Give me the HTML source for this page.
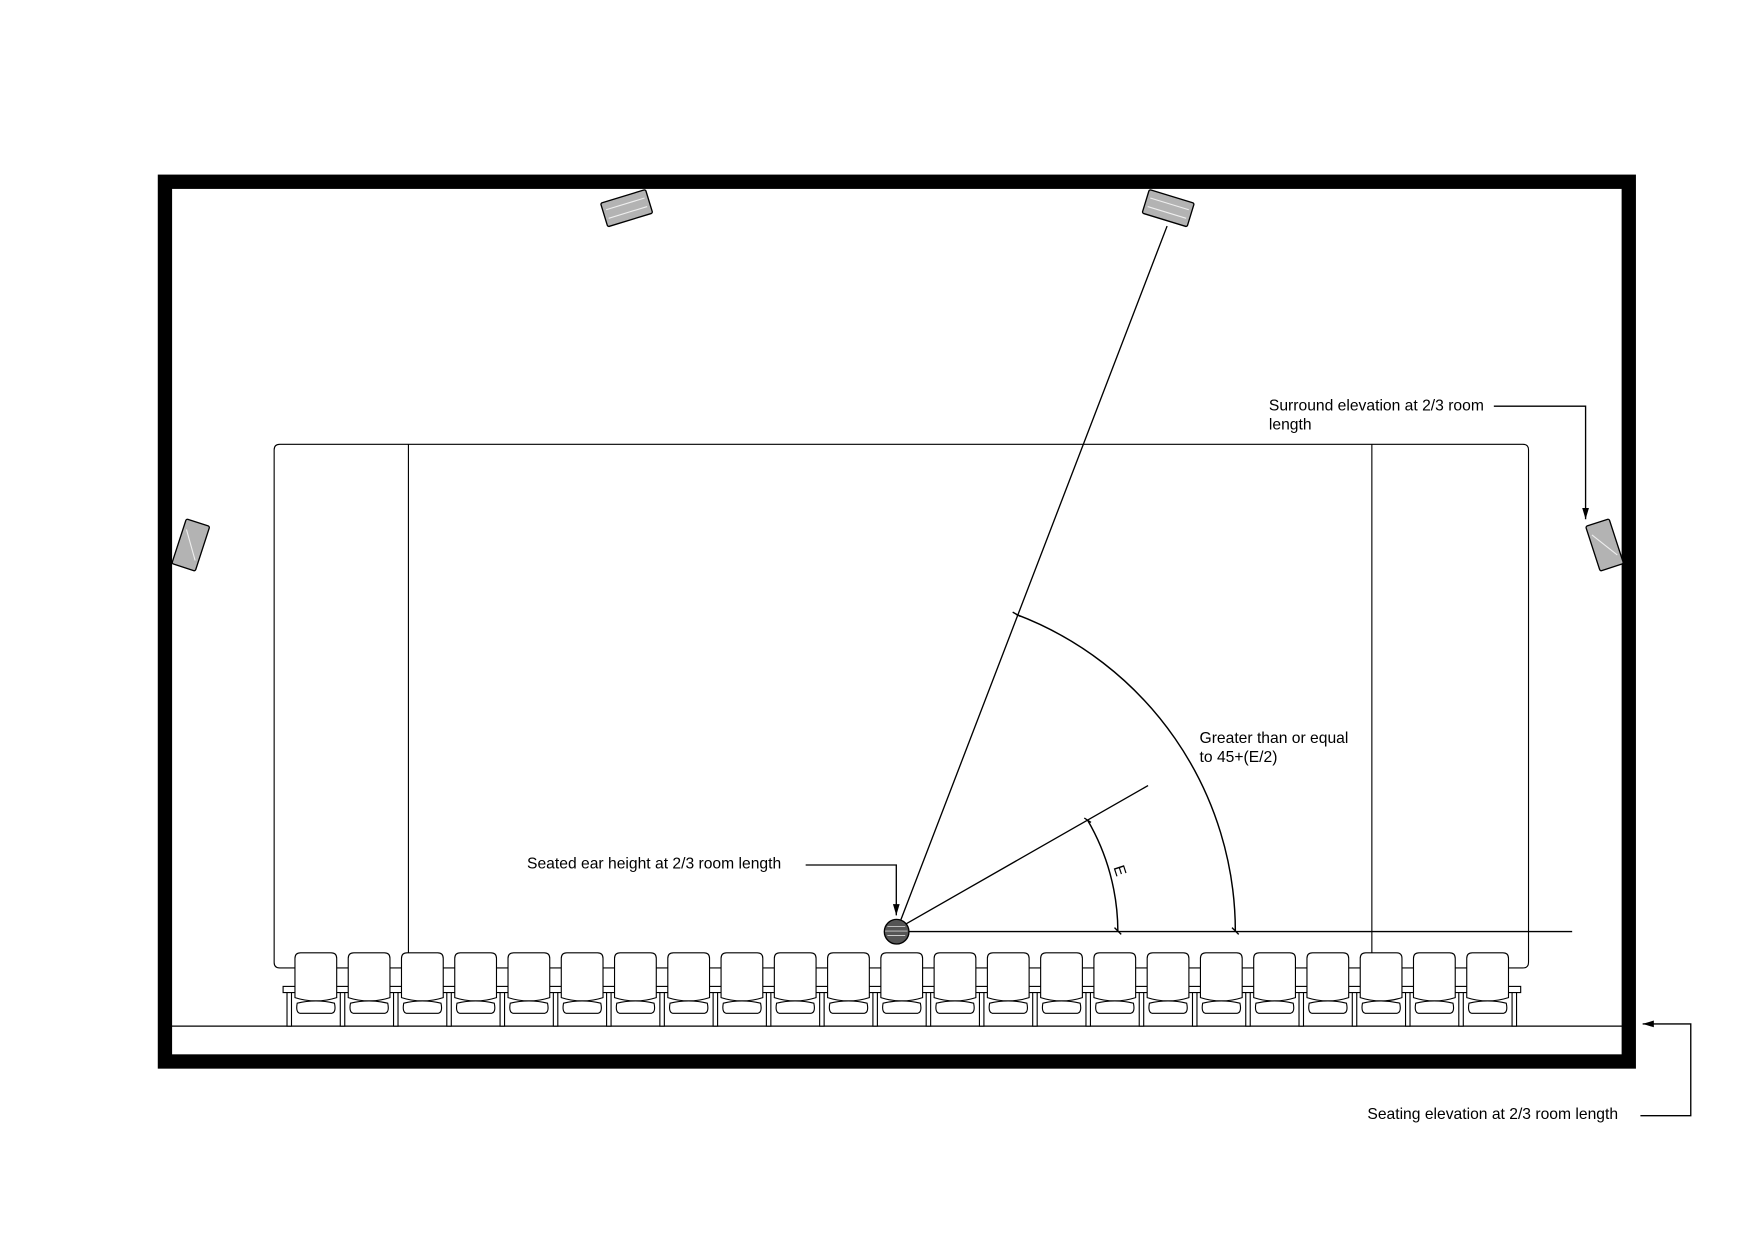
<!DOCTYPE html>
<html><head><meta charset="utf-8"><style>
html,body{margin:0;padding:0;background:#fff;}
svg{display:block;}
text{font-family:"Liberation Sans",Arial,sans-serif;font-size:14px;fill:#000;}
</style></head><body>
<svg width="1755" height="1240" viewBox="0 0 1568.4 1108.1" xmlns="http://www.w3.org/2000/svg">
<defs>
<marker id="ah" viewBox="0 0 10 10" refX="10" refY="5" markerWidth="10" markerHeight="10" markerUnits="userSpaceOnUse" orient="auto">
<path d="M0,2 L10,5 L0,8 Z" fill="#000"/>
</marker>
<g id="seat">
<path d="M0,5 Q0,0 5,0 L32.3,0 Q37.3,0 37.3,5 L37.3,40 Q18.6,46 0,40 Z" fill="#fff" stroke="#000" stroke-width="1"/>
<path d="M2,45 Q18.6,41 35.3,45 Q37,53 33,54 L4.3,54 Q0.5,53 2,45 Z" fill="#fff" stroke="#000" stroke-width="1"/>
</g>
</defs>
<rect x="0" y="0" width="1568.4" height="1108.1" fill="#fff"/>
<rect x="147.4" y="162.4" width="1308.2" height="786.2" fill="none" stroke="#000" stroke-width="12.8"/>
<path d="M250,397 L1361,397 Q1366,397 1366,402 L1366,860 Q1366,865 1361,865 L250,865 Q245,865 245,860 L245,402 Q245,397 250,397 Z" fill="none" stroke="#000" stroke-width="1"/>
<line x1="365" y1="397" x2="365" y2="865" stroke="#000" stroke-width="1"/>
<line x1="1226" y1="397" x2="1226" y2="865" stroke="#000" stroke-width="1"/>
<line x1="153.5" y1="917" x2="1449.5" y2="917" stroke="#000" stroke-width="1.2"/>
<rect x="253" y="881.5" width="1106" height="5.5" fill="#fff" stroke="#000" stroke-width="1"/>
<g fill="#fff" stroke="#000" stroke-width="1">
<rect x="256.5" y="887" width="4" height="30"/><rect x="304.1" y="887" width="4" height="30"/><rect x="351.7" y="887" width="4" height="30"/><rect x="399.3" y="887" width="4" height="30"/><rect x="446.9" y="887" width="4" height="30"/><rect x="494.5" y="887" width="4" height="30"/><rect x="542.1" y="887" width="4" height="30"/><rect x="589.7" y="887" width="4" height="30"/><rect x="637.3" y="887" width="4" height="30"/><rect x="684.9" y="887" width="4" height="30"/><rect x="732.5" y="887" width="4" height="30"/><rect x="780.1" y="887" width="4" height="30"/><rect x="827.7" y="887" width="4" height="30"/><rect x="875.3" y="887" width="4" height="30"/><rect x="922.9" y="887" width="4" height="30"/><rect x="970.5" y="887" width="4" height="30"/><rect x="1018.1" y="887" width="4" height="30"/><rect x="1065.7" y="887" width="4" height="30"/><rect x="1113.3" y="887" width="4" height="30"/><rect x="1160.9" y="887" width="4" height="30"/><rect x="1208.5" y="887" width="4" height="30"/><rect x="1256.1" y="887" width="4" height="30"/><rect x="1303.7" y="887" width="4" height="30"/><rect x="1351.3" y="887" width="4" height="30"/>
</g>
<use href="#seat" x="263.6" y="851.5"/><use href="#seat" x="311.2" y="851.5"/><use href="#seat" x="358.8" y="851.5"/><use href="#seat" x="406.4" y="851.5"/><use href="#seat" x="454" y="851.5"/><use href="#seat" x="501.6" y="851.5"/><use href="#seat" x="549.2" y="851.5"/><use href="#seat" x="596.8" y="851.5"/><use href="#seat" x="644.4" y="851.5"/><use href="#seat" x="692" y="851.5"/><use href="#seat" x="739.6" y="851.5"/><use href="#seat" x="787.2" y="851.5"/><use href="#seat" x="834.8" y="851.5"/><use href="#seat" x="882.4" y="851.5"/><use href="#seat" x="930" y="851.5"/><use href="#seat" x="977.6" y="851.5"/><use href="#seat" x="1025.2" y="851.5"/><use href="#seat" x="1072.8" y="851.5"/><use href="#seat" x="1120.4" y="851.5"/><use href="#seat" x="1168" y="851.5"/><use href="#seat" x="1215.6" y="851.5"/><use href="#seat" x="1263.2" y="851.5"/><use href="#seat" x="1310.8" y="851.5"/>
<g fill="#b3b3b3" stroke="#000" stroke-width="1.2">
<g transform="translate(560,186) rotate(-17)"><rect x="-21" y="-11" width="42" height="22" rx="1.5"/><line x1="-18" y1="-4" x2="18" y2="-4" stroke="#eee" stroke-width="1"/><line x1="-18" y1="4" x2="18" y2="4" stroke="#eee" stroke-width="1"/></g>
<g transform="translate(1044,186) rotate(17)"><rect x="-21" y="-11" width="42" height="22" rx="1.5"/><line x1="-18" y1="-4" x2="18" y2="-4" stroke="#eee" stroke-width="1"/><line x1="-18" y1="4" x2="18" y2="4" stroke="#eee" stroke-width="1"/></g>
<g transform="translate(170.5,487) rotate(18)"><rect x="-11" y="-21" width="22" height="42" rx="1.5"/><line x1="-8" y1="-12" x2="8" y2="12" stroke="#eee" stroke-width="1"/></g>
<g transform="translate(1434,487) rotate(-18)"><rect x="-11" y="-21" width="22" height="42" rx="1.5"/><line x1="-8" y1="-12" x2="8" y2="12" stroke="#eee" stroke-width="1"/></g>
</g>
<line x1="805" y1="832.5" x2="1405" y2="832.5" stroke="#000" stroke-width="1.2"/>
<line x1="802" y1="830" x2="1043" y2="202" stroke="#000" stroke-width="1.2"/>
<line x1="802" y1="830" x2="1026" y2="702" stroke="#000" stroke-width="1.2"/>
<path d="M908,549 A303,303 0 0 1 1104,832" fill="none" stroke="#000" stroke-width="1.3"/>
<path d="M972,733 A198,198 0 0 1 999,832" fill="none" stroke="#000" stroke-width="1.3"/>
<g stroke="#000" stroke-width="1.2">
<line x1="905" y1="547" x2="912" y2="551"/><line x1="969" y1="731" x2="975" y2="735"/>
<line x1="996" y1="829" x2="1002" y2="835"/><line x1="1101" y1="829" x2="1107" y2="835"/>
</g>
<circle cx="801.3" cy="832.6" r="11" fill="#555" stroke="#000" stroke-width="1.2"/>
<g stroke="#ccc" stroke-width="0.8"><line x1="793" y1="828" x2="809" y2="828"/><line x1="791" y1="832" x2="811" y2="832"/><line x1="793" y1="836" x2="809" y2="836"/></g>
<text x="0" y="0" transform="translate(995,775) rotate(72)">E</text>
<text x="1134" y="367">Surround elevation at 2/3 room</text>
<text x="1134" y="384">length</text>
<polyline points="1335,363 1417,363 1417,464" fill="none" stroke="#000" stroke-width="1.2" marker-end="url(#ah)"/>
<text x="1072" y="664">Greater than or equal</text>
<text x="1072" y="681">to 45+(E/2)</text>
<text x="471" y="776">Seated ear height at 2/3 room length</text>
<polyline points="720,773 801,773 801,818" fill="none" stroke="#000" stroke-width="1.2" marker-end="url(#ah)"/>
<text x="1222" y="1000">Seating elevation at 2/3 room length</text>
<polyline points="1466,997 1511,997 1511,915 1468,915" fill="none" stroke="#000" stroke-width="1.2" marker-end="url(#ah)"/>
</svg>
</body></html>
